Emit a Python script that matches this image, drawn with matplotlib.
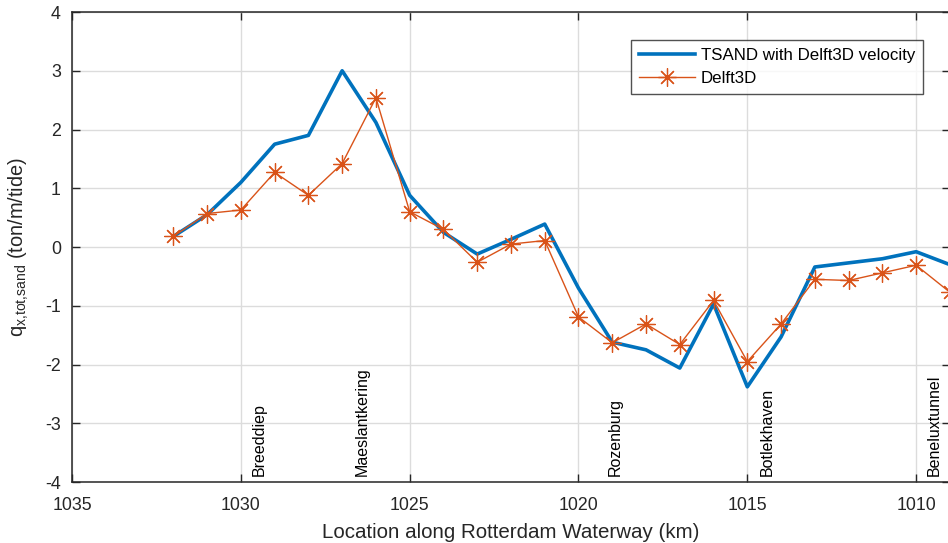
import matplotlib.pyplot as plt

plt.rcParams['font.family'] = ['Liberation Sans', 'DejaVu Sans']
plt.rcParams['mathtext.fontset'] = 'custom'
plt.rcParams['mathtext.rm'] = 'Liberation Sans'
plt.rcParams['axes.unicode_minus'] = False

# data
km = [1032, 1031, 1030, 1029, 1028, 1027, 1026, 1025, 1024, 1023, 1022, 1021,
      1020, 1019, 1018, 1017, 1016, 1015, 1014, 1013, 1012, 1011, 1010, 1009]
tsand = [0.18, 0.55, 1.1, 1.75, 1.9, 3.0, 2.12, 0.88, 0.25, -0.12, 0.13, 0.39,
         -0.7, -1.62, -1.75, -2.06, -0.97, -2.38, -1.53, -0.34, -0.27, -0.2, -0.08, -0.3]
delft = [0.18, 0.57, 0.63, 1.27, 0.88, 1.42, 2.54, 0.6, 0.3, -0.26, 0.05, 0.11,
         -1.19, -1.63, -1.31, -1.66, -0.91, -1.95, -1.31, -0.55, -0.57, -0.44, -0.31, -0.77]

places = ['Breeddiep', 'Maeslantkering', 'Rozenburg', 'Botlekhaven', 'Beneluxtunnel']
place_km = [1029.45, 1026.4, 1018.9, 1014.4, 1009.45]

blue = '#0072BD'
orange = '#D95319'
axcol = '#262626'

fig = plt.figure(figsize=(9.48, 5.43), dpi=100)
ax = fig.add_axes([0.076, 0.1123, 0.926, 0.8656])

ax.plot(km, tsand, color=blue, lw=2.6, label='TSAND with Delft3D velocity')
# MATLAB-like asterisk marker (+ and x combined)
ax.plot(km, delft, color=orange, lw=1.0, marker=(8, 2, 0), markersize=13,
        markeredgewidth=0.9, label='Delft3D')

for name, x in zip(places, place_km):
    ax.text(x, -3.9, name, rotation=90, ha='center', va='bottom', fontsize=11.5, color='black')

ax.set_xlim(1035, 1009)
ax.set_ylim(-4, 4)
ax.set_xticks([1035, 1030, 1025, 1020, 1015, 1010])
ax.set_yticks(range(-4, 5))
ax.grid(True, color='#dcdcdc', lw=1.0)
ax.set_axisbelow(True)
ax.tick_params(direction='in', top=True, right=True, length=6, width=1.0,
               colors=axcol, labelsize=12.8, labelcolor=axcol)
ax.tick_params(axis='x', pad=11)
ax.tick_params(axis='y', pad=8)
for s in ax.spines.values():
    s.set_color(axcol)
    s.set_linewidth(1.1)

ax.set_xlabel('Location along Rotterdam Waterway (km)', fontsize=14.8, color=axcol, labelpad=6)
ax.set_ylabel(r'q$_{\mathrm{x{,}tot{,}sand}}$ (ton/m/tide)', fontsize=14.4, color=axcol, labelpad=10)

leg = ax.legend(loc='upper right', bbox_to_anchor=(0.969, 0.94), borderaxespad=0,
                fontsize=12.2, frameon=True, fancybox=False, edgecolor=axcol,
                borderpad=0.45, handlelength=3.3, handletextpad=0.35, labelspacing=0.5)
leg.get_frame().set_linewidth(1.0)

fig.savefig('out.png', dpi=100)
